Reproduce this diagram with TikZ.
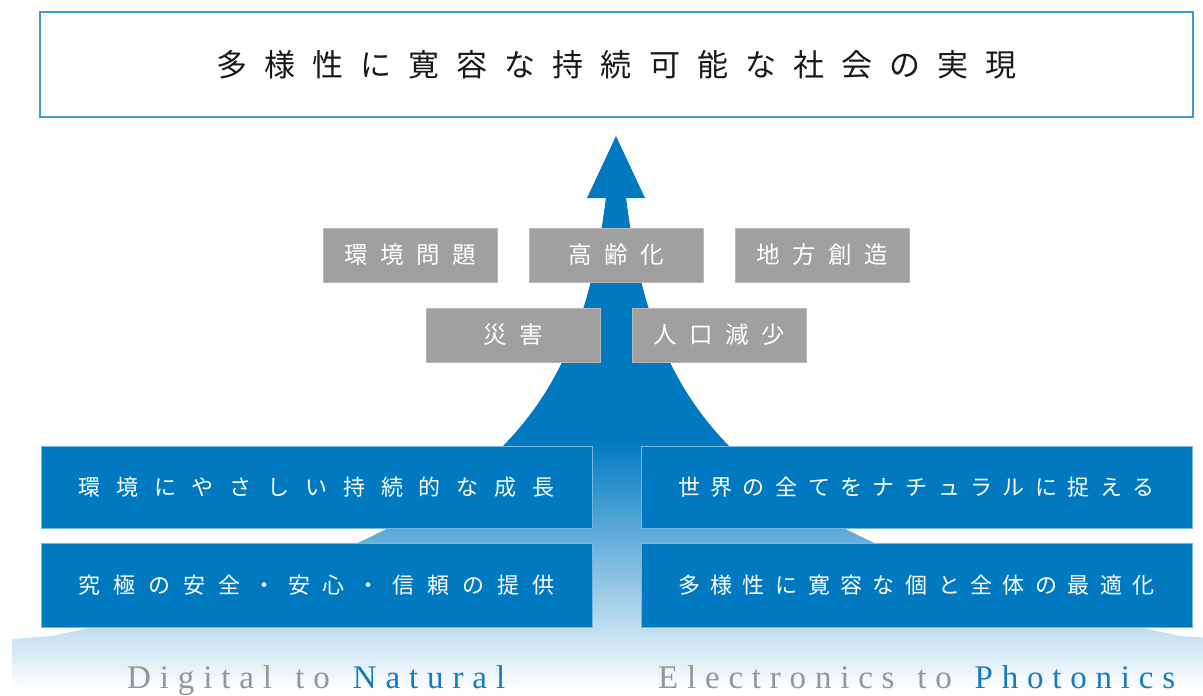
\documentclass[tikz,border=0pt]{standalone}
\usepackage{fontspec}
\newfontfamily\jpfont{Noto Sans CJK JP}
\newfontfamily\slogfont{Liberation Serif}
\definecolor{mainblue}{RGB}{0,121,193}
\definecolor{boxedge}{RGB}{120,182,226}
\definecolor{titleedge}{RGB}{70,152,210}
\definecolor{graybox}{RGB}{160,160,160}
\definecolor{txtgray}{RGB}{150,150,150}
\definecolor{txtblue}{RGB}{22,124,192}
\makeatletter
\newcommand\spacedtext[2]{\def\st@gap{#1}\st@loop#2\relax}
\def\st@loop#1#2{#1\ifx\relax#2\else\hskip\st@gap\relax\expandafter\st@loop\expandafter#2\fi}
\makeatother
\newcommand\wordgap{\hskip 0pt plus 2.6fil\relax}
\tikzset{
  goalbox/.style={draw=titleedge, line width=1.2pt, fill=white, minimum width=1153pt, minimum height=105pt, inner sep=0pt, text=black!90, font=\jpfont\fontsize{31}{31}\selectfont},
  issuebox/.style={fill=graybox, draw=graybox!75!white, line width=0.6pt, minimum width=174pt, minimum height=54pt, inner sep=0pt, text=white, font=\jpfont\fontsize{23.5}{23.5}\selectfont},
  valuebox/.style={fill=mainblue, draw=boxedge, line width=0.8pt, minimum width=551pt, inner sep=0pt, text=white, font=\jpfont\fontsize{22}{22}\selectfont},
  latin/.style={inner sep=0pt, anchor=base west, font=\slogfont\fontsize{33}{33}\selectfont}
}
\begin{document}
\begin{tikzpicture}[x=1pt,y=-1pt]
\useasboundingbox (0,0) rectangle (1203,696);
% rising arrow with gradient base
\begin{scope}
\clip (616,136) -- (645,198)
  -- plot[variable=\t, domain=198:636, samples=90, smooth] ({616+117*exp(0.00828*(\t-445))-5}, \t)
  -- (1203,637.5) -- (1203,696) -- (12,696) -- (12,639)
  -- plot[variable=\t, domain=636:198, samples=90, smooth] ({616-117*exp(0.00828*(\t-445))+5}, \t)
  -- (587,198) -- cycle;
\fill[mainblue] (0,120) rectangle (1203,441);
\shade[top color=mainblue, bottom color=white] (0,440) rectangle (1203,690);
\fill[white] (0,689.5) rectangle (1203,696);
\end{scope}
% issues
\node[issuebox] (env) at (410,255) {\spacedtext{12.5pt}{環境問題}};
\node[issuebox] (aging) at (616,255) {\spacedtext{12.5pt}{高齢化}};
\node[issuebox] (region) at (822,255) {\spacedtext{12.5pt}{地方創造}};
\node[issuebox] (disaster) at (513,335) {\spacedtext{12.5pt}{災害}};
\node[issuebox] (popdec) at (719,335) {\spacedtext{12.5pt}{人口減少}};
% values
\node[valuebox, minimum height=82pt] (growth) at (316.5,487) {\spacedtext{15.83pt}{環境にやさしい持続的な成長}};
\node[valuebox, minimum height=84pt] (safety) at (316.5,585) {\spacedtext{12.92pt}{究極の安全・安心・信頼の提供}};
\node[valuebox, minimum height=82pt] (natural) at (916.5,487) {\spacedtext{10.5pt}{世界の全てをナチュラルに捉える}};
\node[valuebox, minimum height=84pt] (optimal) at (916.5,585) {\spacedtext{10.5pt}{多様性に寛容な個と全体の最適化}};
% goal
\node[goalbox] (goal) at (616.5,64.5) {\spacedtext{17.06pt}{多様性に寛容な持続可能な社会の実現}};
% slogans
\node[latin] (dtn) at (127,688) {\hbox to 378pt{{\color{txtgray}\spacedtext{0pt plus 1fil}{Digital}\wordgap\spacedtext{0pt plus 1fil}{to}}\wordgap{\color{txtblue}\spacedtext{0pt plus 1fil}{Natural}}}};
\node[latin] (etp) at (658,688) {\hbox to 517pt{{\color{txtgray}\spacedtext{0pt plus 1fil}{Electronics}\wordgap\spacedtext{0pt plus 1fil}{to}}\wordgap{\color{txtblue}\spacedtext{0pt plus 1fil}{Photonics}}}};
\end{tikzpicture}
\end{document}
